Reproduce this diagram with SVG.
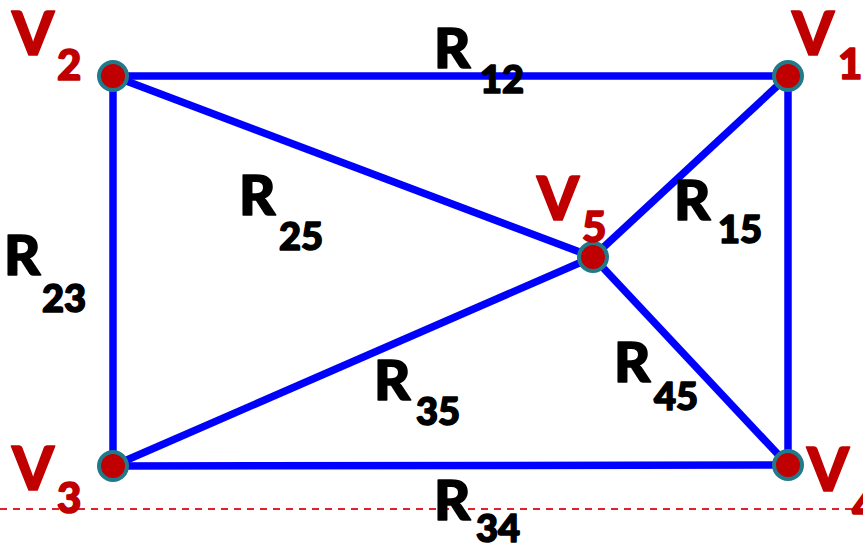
<svg xmlns="http://www.w3.org/2000/svg" width="863" height="544" viewBox="0 0 863 544">
<style>
.e{stroke:#0000ff;stroke-width:7.5;stroke-linecap:butt;fill:none}
.n{fill:#c00000;stroke:#217a8a;stroke-width:4}
.v{font-family:Lato,"Open Sans","Liberation Sans",sans-serif;font-weight:900;fill:#c00000;stroke:#c00000;stroke-width:1.6;stroke-linejoin:round}
.vb{font-size:60px}
.vs{font-size:42px}
.r{font-family:Lato,"Open Sans","Liberation Sans",sans-serif;font-weight:900;fill:#000;stroke:#000;stroke-width:1.6;stroke-linejoin:round}
.rb{font-size:56px}
.rs{font-size:38px}
</style>
<rect width="863" height="544" fill="#fff"/>
<line x1="0" y1="509" x2="863" y2="509" stroke="#e0202a" stroke-width="2" stroke-dasharray="7,6"/>
<g id="connectors">
<line class="e" x1="113" y1="76" x2="788" y2="76"/>
<line class="e" x1="113" y1="76" x2="113" y2="466"/>
<line class="e" x1="788" y1="76" x2="788" y2="465"/>
<line class="e" x1="113" y1="466" x2="788" y2="465"/>
<line class="e" x1="113" y1="76" x2="593" y2="257"/>
<line class="e" x1="593" y1="257" x2="788" y2="76"/>
<line class="e" x1="593" y1="257" x2="113" y2="466"/>
<line class="e" x1="593" y1="257" x2="788" y2="465"/>
</g>
<g id="edge-labels">
<text class="r" x="434" y="68"><tspan class="rb">R</tspan><tspan class="rs" x="480" y="93">12</tspan></text>
<text class="r" x="239" y="215"><tspan class="rb">R</tspan><tspan class="rs" x="279" y="250">25</tspan></text>
<text class="r" x="4" y="275"><tspan class="rb">R</tspan><tspan class="rs" x="42" y="312">23</tspan></text>
<text class="r" x="674" y="220"><tspan class="rb">R</tspan><tspan class="rs" x="718" y="243">15</tspan></text>
<text class="r" x="374" y="400"><tspan class="rb">R</tspan><tspan class="rs" x="416" y="425">35</tspan></text>
<text class="r" x="614" y="382"><tspan class="rb">R</tspan><tspan class="rs" x="654" y="410">45</tspan></text>
<text class="r" x="434" y="520"><tspan class="rb">R</tspan><tspan class="rs" x="476" y="542">34</tspan></text>
</g>
<g id="V1">
<circle class="n" cx="788" cy="76" r="14"/>
<text class="v" x="792" y="55"><tspan class="vb">V</tspan><tspan class="vs" x="838" y="79">1</tspan></text>
</g>
<g id="V2">
<circle class="n" cx="113" cy="76" r="14"/>
<text class="v" x="12" y="55"><tspan class="vb">V</tspan><tspan class="vs" x="57" y="80">2</tspan></text>
</g>
<g id="V3">
<circle class="n" cx="113" cy="466" r="14"/>
<text class="v" x="12" y="490"><tspan class="vb">V</tspan><tspan class="vs" x="57" y="513">3</tspan></text>
</g>
<g id="V4">
<circle class="n" cx="788" cy="465" r="14"/>
<text class="v" x="807" y="491"><tspan class="vb">V</tspan><tspan class="vs" x="852" y="521">4</tspan></text>
</g>
<g id="V5">
<circle class="n" cx="593" cy="257" r="14"/>
<text class="v" x="537" y="220"><tspan class="vb">V</tspan><tspan class="vs" x="582" y="242">5</tspan></text>
</g>
</svg>
